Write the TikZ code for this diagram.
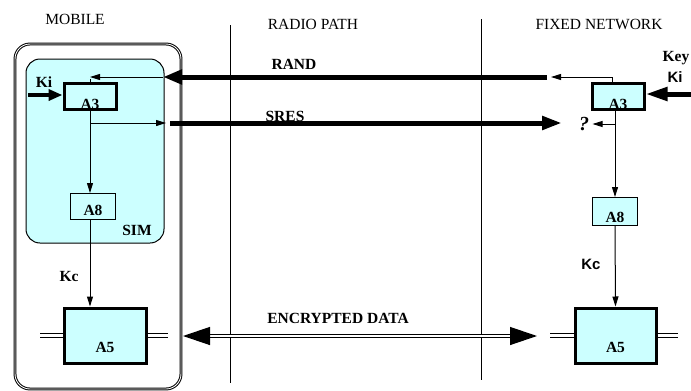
\documentclass[tikz,border=0pt]{standalone}
\usepackage{fontspec}
\setmainfont{Liberation Serif}
\newfontfamily\arialfont{Liberation Sans}
\usepackage{tikz}
\usetikzlibrary{arrows.meta}
\definecolor{simcyan}{RGB}{204,255,255}

\begin{document}
\begin{tikzpicture}[x=1pt, y=-1pt,
    hdr/.style={font=\fontsize{15.5}{17}\selectfont},
    lbl/.style={font=\fontsize{15.5}{17}\selectfont\bfseries},
    sanslbl/.style={font=\fontsize{15}{17}\selectfont\arialfont\bfseries},
    algo/.style={draw, fill=simcyan, inner sep=0pt, text depth=0pt, font=\fontsize{15.5}{17}\selectfont\bfseries},
    heavybox/.style={algo, line width=3pt},
    lightbox/.style={algo, line width=1pt},
    flow/.style={line width=1pt, -{Triangle[length=10pt,width=6pt]}},
    heavy/.style={line width=5pt},
    datalink/.style={double, double distance=2.2pt, line width=1.3pt}]
    \useasboundingbox (0,0) rectangle (691,391);

    % headers and dividers
    \node[hdr] (hmob) at (75,19) {MOBILE};
    \node[hdr] (hrad) at (313,24) {RADIO PATH};
    \node[hdr] (hfix) at (599,24) {FIXED NETWORK};
    \foreach \x/\ya/\yb in {230/25/383, 481/19/380} {
        \draw[line width=1pt] (\x,\ya) -- (\x,\yb);
    }

    % mobile and SIM
    \draw[double, double distance=0.9pt, line width=1pt, rounded corners=15pt] (15,44) rectangle (181,389);
    \draw[fill=simcyan, line width=1pt, rounded corners=14pt] (26,59) rectangle (164,243);
    \node[lbl] (sim) at (137,230) {SIM};

    % algorithm boxes
    \node[heavybox, minimum width=52pt, minimum height=25pt, text height=26pt] (a3m) at (90,96.5) {A3};
    \node[lightbox, minimum width=45pt, minimum height=26pt, text height=17pt] (a8m) at (93,206.5) {A8};
    \node[heavybox, minimum width=82pt, minimum height=55pt, text height=33pt] (a5m) at (105,335.5) {A5};
    \node[heavybox, minimum width=52pt, minimum height=25pt, text height=26pt] (a3n) at (618,96.5) {A3};
    \node[lightbox, minimum width=45pt, minimum height=28pt, text height=21pt] (a8n) at (615,211.5) {A8};
    \node[heavybox, minimum width=81pt, minimum height=55pt, text height=33pt] (a5n) at (615.5,335.5) {A5};

    % labels
    \node[lbl] (kim) at (44,82) {Ki};
    \node[lbl] (key) at (676,58) {Key};
    \node[sanslbl] (kin) at (675,77) {Ki};
    \node[lbl] (kcm) at (69,276) {Kc};
    \node[sanslbl] (kcn) at (591,264) {Kc};
    \node[lbl] (rand) at (294,64) {RAND};
    \node[lbl] (sres) at (285,116) {SRES};
    \node[lbl] (enc) at (338,318) {ENCRYPTED DATA};
    \node[lbl, font=\fontsize{20}{22}\selectfont\bfseries\itshape] (qm) at (584,124) {?};

    % free ends
    \coordinate (kiIn) at (28,95);
    \coordinate (keyIn) at (691,94);
    \coordinate (randN) at (547,77);
    \coordinate (randM) at (163,77);
    \coordinate (sresA) at (166,123);
    \coordinate (sresB) at (170,123);
    \coordinate (sresC) at (562,123);
    \coordinate (encM) at (183,336);
    \coordinate (encN) at (537,336);

    % keys in
    \draw[line width=4.5pt, -{Triangle[length=14pt,width=11pt]}] (kiIn) -- (kiIn -| a3m.west);
    \draw[heavy, -{Triangle[length=22pt,width=13pt]}] (keyIn) -- (keyIn -| a3n.east);

    % RAND
    \draw[flow] ([xshift=-6pt]a3n.north) |- ([xshift=4pt]randN);
    \draw[heavy, -{Triangle[length=19pt,width=14pt]}] (randN) -- (randM);
    \draw[flow] (randM) -- (a3m.north |- randM);
    \draw[line width=1pt] ([yshift=-2pt]a3m.north |- randM) -- (a3m.north);

    % SRES
    \draw[flow] (a3m.south |- sresA) -- (sresA);
    \draw[heavy, -{Triangle[length=20pt,width=13pt]}] (sresB) -- (sresC);
    \draw[flow] (a8n.north |- qm) -- (qm.east);

    % key derivation
    \draw[flow] (a3m.south) -- (a3m.south |- a8m.north);
    \draw[flow] (a3m.south |- a8m.south) -- (a3m.south |- a5m.north);
    \draw[flow] (a8n.north |- a3n.south) -- (a8n.north);
    \draw[flow] (a8n.south) -- (a5n.north);

    % encrypted data
    \draw[datalink] (a5m.west) -- ++(-23,0);
    \draw[datalink] (a5m.east) -- ++(20,0);
    \draw[datalink] (a5n.west) -- ++(-24,0);
    \draw[datalink] (a5n.east) -- ++(20,0);
    \draw[datalink, {Triangle[length=27pt,width=18pt]}-{Triangle[length=27pt,width=18pt]}] (encM) -- (encN);
\end{tikzpicture}
\end{document}
